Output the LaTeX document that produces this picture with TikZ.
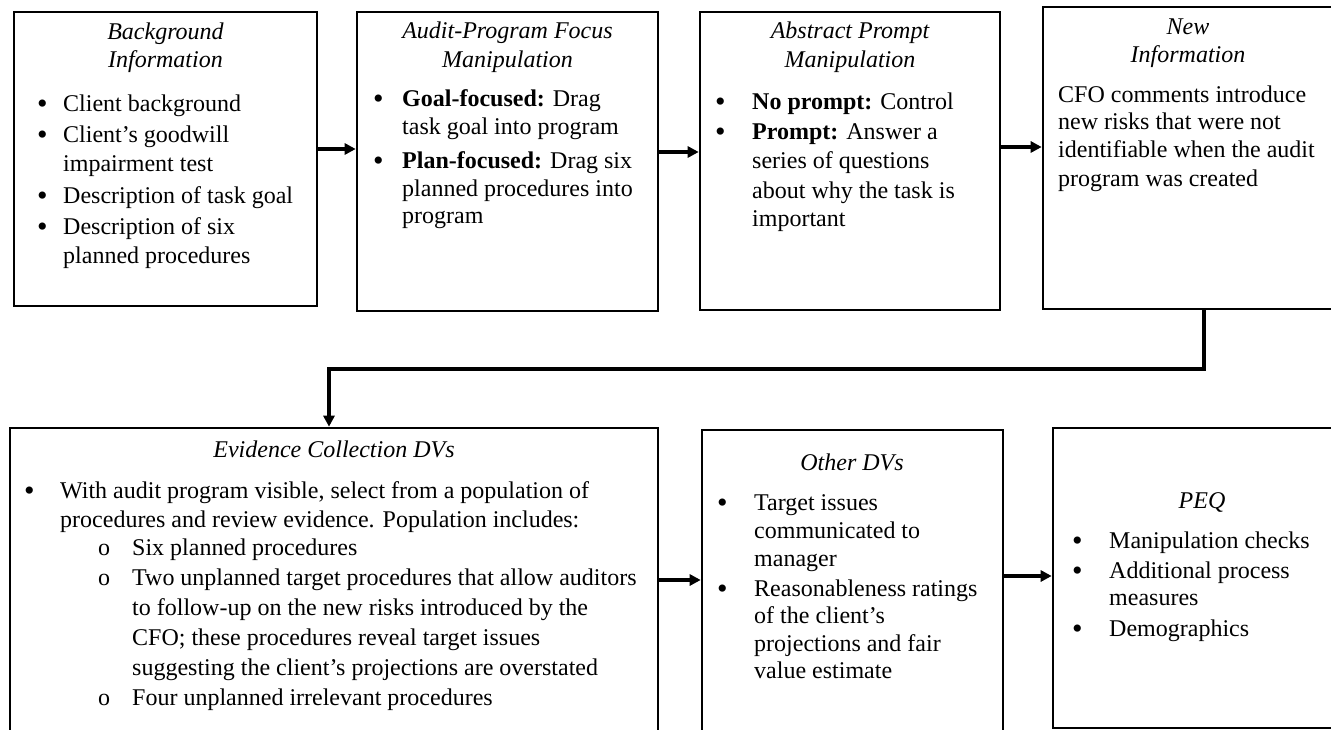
\documentclass[tikz,border=0pt]{standalone}
\usepackage{fontspec}
\setmainfont{Liberation Serif}
\usetikzlibrary{arrows.meta}
\tikzset{
  box/.style={draw, line width=2.6pt, inner sep=0pt},
  arr/.style={line width=3.2pt, -{Triangle[length=11pt,width=11pt]}},
  ttl/.style={anchor=base, inner sep=0pt, font=\fontsize{24}{29}\selectfont\itshape},
  txt/.style={anchor=base west, inner sep=0pt},
}
\newcommand\bul{\raisebox{-2pt}{\scalebox{1.25}{\textbullet}}}
\newcommand\sub{\hspace*{73pt}\makebox[34pt][l]{o}}
\newcommand\subc{\hspace*{107pt}}
\begin{document}
\begin{tikzpicture}[x=1pt,y=-1pt,font=\fontsize{24}{29}\selectfont]
\useasboundingbox (0,0) rectangle (1331,730);
\clip (0,0) rectangle (1331,730);
% boxes
\node[box, minimum width=303pt, minimum height=294pt] (b1) at (165.5,159) {};
\node[box, minimum width=301pt, minimum height=299pt] (b2) at (507.5,161.5) {};
\node[box, minimum width=300pt, minimum height=298pt] (b3) at (850,161) {};
\node[box, minimum width=302pt, minimum height=302pt] (b4) at (1194,158) {};
\node[box, minimum width=648pt, minimum height=330pt] (ev) at (334,593) {};
\node[box, minimum width=301pt, minimum height=330pt] (od) at (852.5,595) {};
\node[box, minimum width=292pt, minimum height=300pt] (pq) at (1199,578) {};
% box 1
\node[ttl] (t1) at (165.5,40) {\begin{tabular}[t]{@{}c@{}}Background\\[-1pt]Information\end{tabular}};
\node[txt] (l1) at (37,112) {\begin{tabular}[t]{@{}p{26pt}@{}l@{}}
\bul & Client background\\[2pt]
\bul & Client’s goodwill\\
 & impairment test\\[3pt]
\bul & Description of task goal\\[2pt]
\bul & Description of six\\
 & planned procedures
\end{tabular}};
% box 2
\node[ttl] (t2) at (507.5,39) {\begin{tabular}[t]{@{}c@{}}Audit-Program Focus\\[0pt]Manipulation\end{tabular}};
\node[txt] (l2) at (373,107) {\begin{tabular}[t]{@{}p{29pt}@{}l@{}}
\bul & \textbf{Goal-focused:} Drag\\[-1pt]
 & task goal into program\\[5pt]
\bul & \textbf{Plan-focused:} Drag six\\[-1pt]
 & planned procedures into\\[-2pt]
 & program
\end{tabular}};
% box 3
\node[ttl] (t3) at (850,39) {\begin{tabular}[t]{@{}c@{}}Abstract Prompt\\[0pt]Manipulation\end{tabular}};
\node[txt] (l3) at (715,110) {\begin{tabular}[t]{@{}p{37pt}@{}l@{}}
\bul & \textbf{No prompt:} Control\\[1pt]
\bul & \textbf{Prompt:} Answer a\\
 & series of questions\\[1pt]
 & about why the task is\\[-1pt]
 & important
\end{tabular}};
% box 4
\node[ttl] (t4) at (1188,35) {\begin{tabular}[t]{@{}c@{}}New\\[-1pt]Information\end{tabular}};
\node[txt] (l4) at (1058,103) {\begin{tabular}[t]{@{}l@{}}
CFO comments introduce\\[-2pt]
new risks that were not\\[-1pt]
identifiable when the audit\\[0pt]
program was created
\end{tabular}};
% evidence
\node[ttl] (t5) at (334,457) {Evidence Collection DVs};
\node[txt] (l5) at (24,498) {\begin{tabular}[t]{@{}l@{}}
\makebox[36pt][l]{\bul}With audit program visible, select from a population of\\
\hspace*{36pt}procedures and review evidence. Population includes:\\[-1pt]
\hspace*{1pt}\sub Six planned procedures\\[1pt]
\hspace*{1pt}\sub Two unplanned target procedures that allow auditors\\[1pt]
\hspace*{1pt}\subc to follow-up on the new risks introduced by the\\[1pt]
\hspace*{1pt}\subc CFO; these procedures reveal target issues\\[1pt]
\hspace*{1pt}\subc suggesting the client’s projections are overstated\\[1pt]
\hspace*{1pt}\sub Four unplanned irrelevant procedures
\end{tabular}};
% other DVs
\node[ttl] (t6) at (852,470) {Other DVs};
\node[txt] (l6) at (717,510) {\begin{tabular}[t]{@{}p{37pt}@{}l@{}}
\bul & Target issues\\[-1pt]
 & communicated to\\[-1pt]
 & manager\\[1pt]
\bul & Reasonableness ratings\\[-2pt]
 & of the client’s\\[-1pt]
 & projections and fair\\[-2pt]
 & value estimate
\end{tabular}};
% PEQ
\node[ttl] (t7) at (1202,508) {PEQ};
\node[txt] (l7) at (1072,548) {\begin{tabular}[t]{@{}p{37pt}@{}l@{}}
\bul & Manipulation checks\\[1pt]
\bul & Additional process\\[-2pt]
 & measures\\[2pt]
\bul & Demographics
\end{tabular}};
% connectors
\draw[arr] (b1.east |- 0,149) -- (b2.west |- 0,149);
\draw[arr] (b2.east |- 0,152) -- (b3.west |- 0,152);
\draw[arr] (b3.east |- 0,147) -- (b4.west |- 0,147);
\draw[arr] (1204,0 |- b4.south) |- (329,369) -- (329,0 |- ev.north);
\draw[arr] (ev.east |- 0,580) -- (od.west |- 0,580);
\draw[arr] (od.east |- 0,576) -- (pq.west |- 0,576);
\end{tikzpicture}
\end{document}
